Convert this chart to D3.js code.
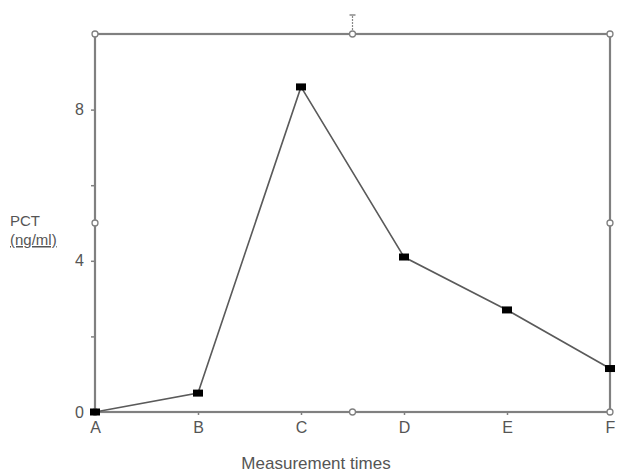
<!DOCTYPE html>
<html><head><meta charset="utf-8">
<script src="https://cdn.jsdelivr.net/npm/d3@7"></script>
<style>body{margin:0;background:#fff;}svg{display:block;font-family:Arial,"Liberation Sans",sans-serif;}</style>
</head><body>
<svg id="c" width="617" height="473"></svg>
<script>
const categories = ["A","B","C","D","E","F"];
const pctValues = [0, 0.5, 8.6, 4.1, 2.7, 1.15];
const yTickLabels = [0, 4, 8];
const yMinorTicks = [2, 6];
const yDomain = [0, 10];
const xTitle = "Measurement times";
const yTitle = ["PCT", "(ng/ml)"];

const svg = d3.select("#c");
const L = 95, R = 610, T = 34, B = 412;
const x = d3.scalePoint().domain(categories).range([L, R]);
const y = d3.scaleLinear().domain(yDomain).range([B, T]);
const frameCol = "#808080", textCol = "#555";

// frame
svg.append("rect").attr("x", L).attr("y", T).attr("width", R - L).attr("height", B - T)
  .attr("fill", "none").attr("stroke", frameCol).attr("stroke-width", 2.2);

// y axis ticks
const yAxis = d3.axisLeft(y).tickValues(yTickLabels.concat(yMinorTicks)).tickSize(4)
  .tickFormat(d => yTickLabels.includes(d) ? d : "").tickPadding(7);
const gy = svg.append("g").attr("transform", `translate(${L},0)`).call(yAxis);
gy.select(".domain").remove();
gy.selectAll(".tick line").attr("stroke", frameCol).attr("stroke-width", 1.5);
gy.selectAll(".tick text").attr("fill", textCol).attr("font-size", 16);

// x axis ticks
const xAxis = d3.axisBottom(x).tickSize(3).tickPadding(7);
const gx = svg.append("g").attr("transform", `translate(0,${B})`).call(xAxis);
gx.select(".domain").remove();
gx.selectAll(".tick line").attr("stroke", frameCol).attr("stroke-width", 1.5);
gx.selectAll(".tick text").attr("fill", textCol).attr("font-size", 16);

// handle circles
const midX = (L + R) / 2, midY = y(5);
const handles = [[L,T],[R,T],[R,B],[L,B],[midX,T],[midX,B],[L,midY],[R,midY]];
svg.selectAll("circle.h").data(handles).enter().append("circle").attr("class","h")
  .attr("cx", d => d[0]).attr("cy", d => d[1]).attr("r", 3)
  .attr("fill", "#fff").attr("stroke", frameCol).attr("stroke-width", 1.3);

// top handle glyph
svg.append("line").attr("x1", midX).attr("x2", midX).attr("y1", 16).attr("y2", 31)
  .attr("stroke", "#888").attr("stroke-width", 1.2).attr("stroke-dasharray", "2,1");
svg.append("line").attr("x1", midX - 3).attr("x2", midX + 3).attr("y1", 15).attr("y2", 15)
  .attr("stroke", "#888").attr("stroke-width", 1.5);

// data line
const line = d3.line().x((d, i) => x(categories[i])).y(d => y(d));
svg.append("path").datum(pctValues).attr("d", line).attr("fill", "none")
  .attr("stroke", "#5a5a5a").attr("stroke-width", 1.6);
svg.selectAll("rect.m").data(pctValues).enter().append("rect").attr("class","m")
  .attr("x", (d, i) => x(categories[i]) - 5).attr("y", d => y(d) - 3.5)
  .attr("width", 10).attr("height", 7).attr("fill", "#000");

// titles
svg.append("text").attr("x", 10).attr("y", 226).attr("fill", textCol).attr("font-size", 15).text(yTitle[0]);
svg.append("text").attr("x", 10).attr("y", 245).attr("fill", textCol).attr("font-size", 15)
  .attr("text-decoration", "underline").text(yTitle[1]);
svg.append("text").attr("x", 316).attr("y", 469).attr("text-anchor", "middle")
  .attr("fill", textCol).attr("font-size", 17).text(xTitle);
</script>
</body></html>
